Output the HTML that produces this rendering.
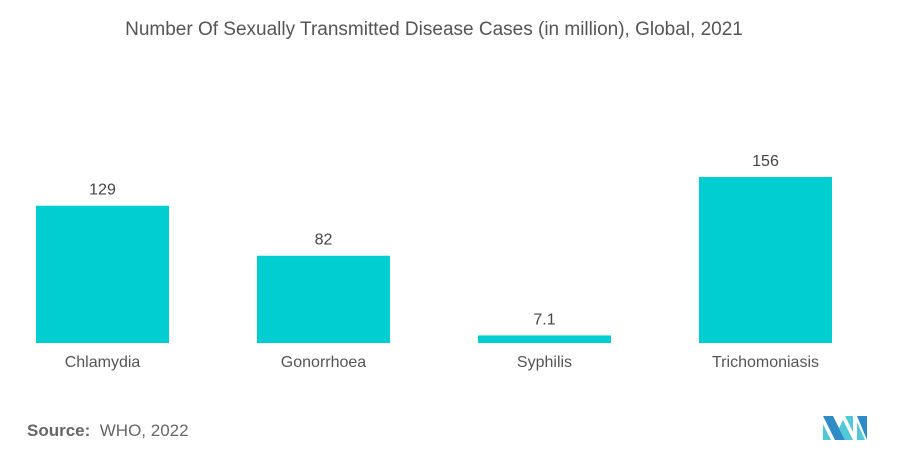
<!DOCTYPE html>
<html><head><meta charset="utf-8"><style>
body{margin:0;width:904px;height:463px;background:#fff;font-family:"Liberation Sans",sans-serif;overflow:hidden;position:relative}
.t{position:absolute;white-space:nowrap}
</style></head><body>
<div class="t" style="left:0;width:868px;top:19px;text-align:center;font-size:19px;color:#555">Number Of Sexually Transmitted Disease Cases (in million), Global, 2021</div>
<svg id="c" width="904" height="463" style="position:absolute;left:0;top:0"></svg>
<div class="t" style="left:27px;top:421px;font-size:17px;color:#666"><b>Source:</b>&nbsp; WHO, 2022</div>
<svg width="46" height="26" style="position:absolute;left:823px;top:416px">
<polygon points="0,0 10,0 22,24 12,24" fill="#2e8bc6"/><polygon points="0,8 8,24 0,24" fill="#4fc9d6"/>
<polygon points="22,0 30,0 30,16" fill="#4fc9d6"/><polygon points="20,4 30,24 22,24 16,12" fill="#4fc9d6"/>
<polygon points="34,0 44,0 44,24" fill="#2e8bc6"/><polygon points="34,6 42,24 34,24" fill="#4fc9d6"/>
</svg>
<script>
const categories=["Chlamydia","Gonorrhoea","Syphilis","Trichomoniasis"];
const values=[129,82,7.1,156];
const valueLabels=["129","82","7.1","156"];
const ns="http://www.w3.org/2000/svg",svg=document.getElementById('c');
const base=343,scale=166/156,x0=36,step=221,bw=133;
const y=v=>base-v*scale;
categories.forEach((c,i)=>{
 const x=x0+i*step;
 const r=document.createElementNS(ns,'rect');
 r.setAttribute('x',x);r.setAttribute('y',y(values[i]));r.setAttribute('width',bw);r.setAttribute('height',base-y(values[i]));r.setAttribute('fill','#00ced1');
 
 
 svg.appendChild(r);
 const v=document.createElementNS(ns,'text');
 v.setAttribute('x',x+bw/2);v.setAttribute('y',y(values[i])-11);v.setAttribute('text-anchor','middle');v.setAttribute('font-size','16');v.setAttribute('fill','#444');v.setAttribute('font-family','Liberation Sans, sans-serif');
 v.textContent=valueLabels[i];
 
 
 svg.appendChild(v);
 const l=document.createElementNS(ns,'text');
 l.setAttribute('x',x+bw/2);l.setAttribute('y',367);l.setAttribute('text-anchor','middle');l.setAttribute('font-size','16');l.setAttribute('fill','#555');l.setAttribute('font-family','Liberation Sans, sans-serif');
 l.textContent=c;
 
 
 svg.appendChild(l);
});
</script>
</body></html>
